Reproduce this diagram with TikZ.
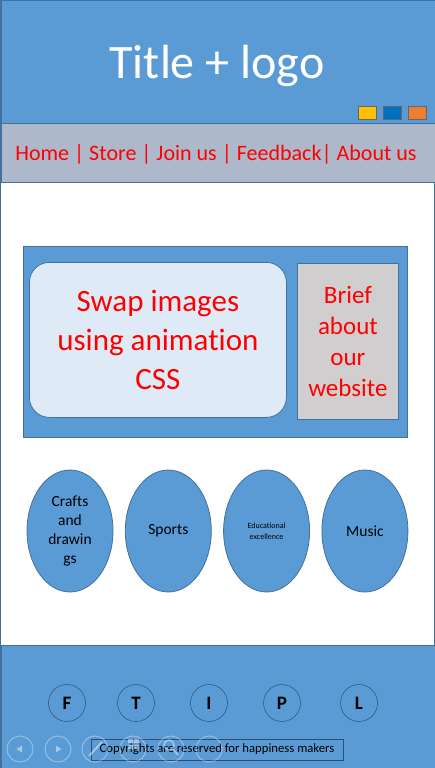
\documentclass[tikz,border=0pt]{standalone}
\usepackage{fontspec}
\setmainfont{Carlito}[Ligatures=NoCommon]
\usetikzlibrary{positioning,shapes.geometric}
\definecolor{headerblue}{HTML}{5B9BD5}
\definecolor{edgeblue}{HTML}{41719C}
\definecolor{navgrey}{HTML}{ADB9CA}
\definecolor{slidelight}{HTML}{DEEBF7}
\definecolor{briefgrey}{HTML}{D0CECE}
\definecolor{logoyellow}{HTML}{FFC000}
\definecolor{logoblue}{HTML}{0070C0}
\definecolor{logoorange}{HTML}{ED7D31}

\begin{document}
\begin{tikzpicture}[x=1pt,y=-1pt,
  panel/.style={draw=edgeblue,line width=.8pt,inner sep=0pt,anchor=north west},
  swatch/.style={draw=gray!80!black,line width=.6pt,minimum width=18pt,minimum height=13pt,inner sep=0pt},
  topic/.style={ellipse,draw=edgeblue,fill=headerblue,line width=.8pt,minimum width=86pt,minimum height=122pt,inner sep=0pt,align=center,font=\fontsize{15.5}{19}\selectfont},
  social/.style={circle,draw=edgeblue!80!black,line width=.6pt,minimum size=37pt,inner sep=0pt,font=\fontsize{19}{19}\selectfont\bfseries},
  control/.style={circle,draw=white,draw opacity=.35,line width=1pt,minimum size=26pt,inner sep=0pt},
  icon/.style={white,opacity=.45},
  redtext/.style={text=red,align=center}
]
\useasboundingbox (0,0) rectangle (435,768);
\fill[white] (0,0) rectangle (435,768);
\draw[edgeblue,line width=.8pt] (0.5,0.5) rectangle (434.5,767.5);
% header
\node[panel,fill=headerblue,minimum width=434pt,minimum height=123pt] (header) at (0.5,0.5) {};
\node[text=white,font=\fontsize{48}{48}\selectfont,anchor=base] (title) at (217,78) {Title + logo};
\node[swatch,fill=logoyellow] (sqyellow) at (367.5,112.5) {};
\node[swatch,fill=logoblue] (sqblue) at (392,112.5) {};
\node[swatch,fill=logoorange] (sqorange) at (417,112.5) {};
% menu
\node[panel,fill=navgrey,minimum width=434pt,minimum height=59pt] (nav) at (0.5,123) {};
\node[redtext,font=\fontsize{22}{22}\selectfont,anchor=base] (menu) at (216,160) {Home | Store | Join us | Feedback| About us};
% slider
\node[panel,fill=headerblue,minimum width=384pt,minimum height=191pt] (slider) at (23,246) {};
\node[panel,fill=slidelight,rounded corners=20pt,minimum width=257pt,minimum height=155pt,redtext,font=\fontsize{31}{39}\selectfont] (swap) at (29,262) {Swap images\\using animation\\CSS};
\node[panel,fill=briefgrey,minimum width=101pt,minimum height=156pt,redtext,font=\fontsize{25}{31}\selectfont] (brief) at (297,263) {Brief\\about\\our\\website};
% topics
\node[topic] (crafts) at (70,531) {Crafts\\and\\drawin\\gs};
\node[topic,right=11.5pt of crafts] (sports) {Sports};
\node[topic,right=11.5pt of sports,font=\fontsize{8}{11}\selectfont] (educ) {Educational\\excellence};
\node[topic,right=11.5pt of educ] (music) {Music};
% footer
\node[panel,fill=headerblue,minimum width=434pt,minimum height=122.5pt] (footer) at (0.5,645) {};
\node[social] (fb) at (67,703) {F};
\node[social] (tw) at (136,703) {T};
\node[social] (ig) at (209,703) {I};
\node[social] (pin) at (282,703) {P};
\node[social] (li) at (359,703) {L};
\node[draw=edgeblue!70!black,line width=.6pt,minimum width=252pt,minimum height=21pt,inner sep=0pt,font=\fontsize{12.7}{13}\selectfont] (copyright) at (217,749.5) {Copyrights are reserved for happiness makers};
% slide show controls
\foreach \cx/\nm in {20/prev,58/next,95/pen,133/grid,171/lens,209/more}
  \node[control] (\nm) at (\cx,749) {};
\fill[icon] (16.5,749) -- (22,745.5) -- (22,752.5) -- cycle;
\fill[icon] (61.5,749) -- (56,745.5) -- (56,752.5) -- cycle;
\draw[icon,line width=2pt] (89,756) -- (102,742);
\foreach \gx/\gy in {128/739,134/739,128/745,134/745}
  \fill[icon] (\gx,\gy) rectangle ++(5,4);
\draw[icon,line width=1.5pt] (169,745) circle[radius=5] (172.5,748.5) -- (178,755);
\end{tikzpicture}
\end{document}
